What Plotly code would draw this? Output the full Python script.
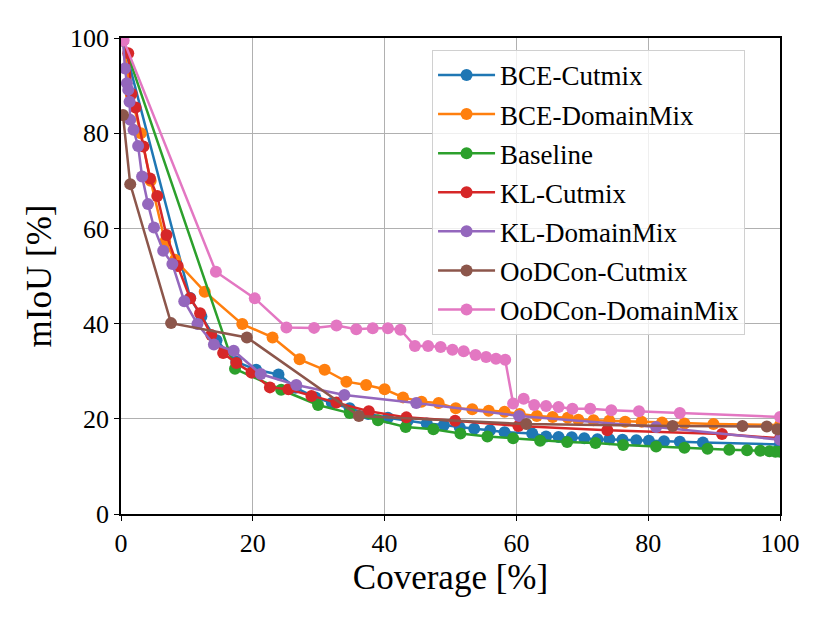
import plotly.graph_objects as go

names = ["BCE-Cutmix", "BCE-DomainMix", "Baseline", "KL-Cutmix",
         "KL-DomainMix", "OoDCon-Cutmix", "OoDCon-DomainMix"]
colors = ["#1f77b4", "#ff7f0e", "#2ca02c", "#d62728",
          "#9467bd", "#8c564b", "#e377c2"]

bce_cut_x = [0.3, 10.5, 12.2, 14.5, 17.5, 20.5, 23.9, 26.5, 29.5, 32, 34.7, 37.5,
             40.5, 43.5, 46.4, 49, 51.4, 53.6, 56, 58.2, 62.4, 64.5, 66.4, 68.4,
             70.3, 72.3, 74.1, 76.1, 78.2, 80.1, 82.4, 84.8, 88.3, 100]
bce_cut_y = [99.5, 45.4, 41.5, 36.5, 32, 30.3, 29.3, 26.5, 24.5, 23.3, 22.2, 21,
             20.2, 19.6, 19.0, 18.7, 18.2, 17.9, 17.6, 17.2, 16.9, 16.3, 16.2, 16.1,
             15.9, 15.7, 15.7, 15.6, 15.5, 15.4, 15.3, 15.2, 15.0, 14.6]

bce_dm_x = [0.3, 1.5, 3, 4.5, 6.7, 8.2, 12.7, 18.4, 23, 27.1, 30.9, 34.2, 37.2,
            40, 42.8, 45.6, 48.2, 50.8, 53.3, 55.8, 58.2, 60.5, 63.1, 65.5, 67.8,
            69.4, 71.7, 74.1, 76.5, 79, 82.1, 85.5, 89.9, 100]
bce_dm_y = [99.5, 88, 80, 70, 57.2, 53.4, 46.7, 39.9, 37.1, 32.5, 30.3, 27.8, 27.1,
            26.2, 24.5, 23.6, 23.3, 22.2, 22.0, 21.7, 21.5, 21.0, 20.6, 20.4, 20.2,
            19.8, 19.7, 19.6, 19.4, 19.4, 19.2, 19.0, 18.9, 18.7]

base_x = [0.3, 17.3, 24.3, 29.9, 34.7, 39, 43.2, 47.4, 51.5, 55.6, 59.5, 63.6,
          67.7, 72, 76.2, 81.2, 85.5, 89, 92.3, 95, 97, 98.4, 99.3, 100]
base_y = [99.5, 30.5, 26.1, 22.9, 21.2, 19.7, 18.3, 17.8, 16.9, 16.3, 15.9, 15.4,
          15.1, 14.9, 14.5, 14.2, 13.9, 13.7, 13.5, 13.4, 13.3, 13.2, 13.1, 13.1]

kl_cut_x = [0.3, 1.1, 1.6, 2.2, 3.4, 4.4, 5.5, 6.9, 8.6, 10.5, 12, 13.7, 15.5,
            17.5, 19.8, 22.6, 25.4, 28.9, 32.7, 37.6, 43.3, 50.7, 60.3, 73.8, 91.2, 100]
kl_cut_y = [99.5, 96.8, 88.3, 85.4, 77.2, 70.5, 66.8, 58.6, 52.1, 45.3, 42.2, 37.6,
            33.8, 31.7, 29.7, 26.6, 26.2, 24.8, 23.4, 21.6, 20.3, 19.6, 18.5, 17.6,
            16.8, 15.9]

kl_dm_x = [0.3, 0.6, 0.9, 1.1, 1.3, 1.4, 1.9, 2.6, 3.2, 4.1, 5.0, 6.4, 7.8, 9.6,
           11.6, 14.1, 17.1, 21.2, 26.6, 33.9, 44.8, 60.4, 81.2, 100]
kl_dm_y = [99.5, 93.6, 90.5, 89.1, 86.6, 82.8, 80.7, 77.3, 70.9, 65.1, 60.2, 55.3,
           52.5, 44.7, 39.9, 35.6, 34.3, 29.4, 27.1, 25.0, 23.3, 20.6, 18.3, 15.6]

ood_cut_x = [0.3, 1.4, 7.6, 19.1, 36.1, 61.5, 83.7, 94.3, 98, 99.6]
ood_cut_y = [83.8, 69.3, 40.1, 37.1, 20.6, 18.9, 18.5, 18.5, 18.4, 17.8]

ood_dm_x = [0.4, 14.4, 20.3, 25.1, 29.3, 32.7, 35.7, 38.2, 40.5, 42.4, 44.6, 46.6,
            48.5, 50.3, 52, 53.8, 55.4, 56.9, 58.3, 59.5, 61.1, 62.7, 64.5, 66.4,
            68.5, 71.2, 74.4, 78.6, 84.8, 100]
ood_dm_y = [99.5, 50.9, 45.3, 39.2, 39.1, 39.6, 38.8, 39.0, 39.0, 38.7, 35.3, 35.3,
            35.1, 34.5, 34.2, 33.4, 33.0, 32.6, 32.4, 23.2, 24.2, 22.9, 22.7, 22.5,
            22.1, 22.1, 21.8, 21.6, 21.2, 20.4]

series = [(bce_cut_x, bce_cut_y), (bce_dm_x, bce_dm_y), (base_x, base_y),
          (kl_cut_x, kl_cut_y), (kl_dm_x, kl_dm_y), (ood_cut_x, ood_cut_y),
          (ood_dm_x, ood_dm_y)]

fig = go.Figure()
for name, color, (xs, ys) in zip(names, colors, series):
    fig.add_trace(go.Scatter(x=xs, y=ys, mode="lines+markers", name=name,
                             line=dict(color=color, width=2.5),
                             marker=dict(color=color, size=12),
                             legendgroup=name))

serif = "Liberation Serif, Times New Roman, serif"
# page body has an 8px margin, so the figure is a bit smaller than the window
fig.update_layout(
    width=822, height=615,
    margin=dict(l=113, r=50, t=30, b=109),
    plot_bgcolor="white", paper_bgcolor="white",
    font=dict(family=serif, size=26, color="black"),
    showlegend=True,
    legend=dict(x=0.472, y=0.975, xanchor="left", yanchor="top",
                bgcolor="rgba(255,255,255,0.8)", bordercolor="#d0d0d0",
                borderwidth=1, font=dict(size=27, family=serif),
                tracegroupgap=1, itemwidth=57),
)
fig.update_xaxes(range=[0, 100], dtick=20, showgrid=True, gridcolor="#b0b0b0",
                 gridwidth=1, showline=True, linecolor="black", linewidth=1.5,
                 mirror=True, ticks="outside", ticklen=5, tickcolor="black",
                 zeroline=False,
                 title=dict(text="Coverage [%]", font=dict(size=35, family=serif),
                            standoff=0))
fig.update_yaxes(range=[0, 100], dtick=20, showgrid=True, gridcolor="#b0b0b0",
                 gridwidth=1, showline=True, linecolor="black", linewidth=1.5,
                 mirror=True, ticks="outside", ticklen=5, tickcolor="black",
                 zeroline=False,
                 title=dict(text="mIoU [%]", font=dict(size=35, family=serif),
                            standoff=8))

fig.write_html("out.html")
